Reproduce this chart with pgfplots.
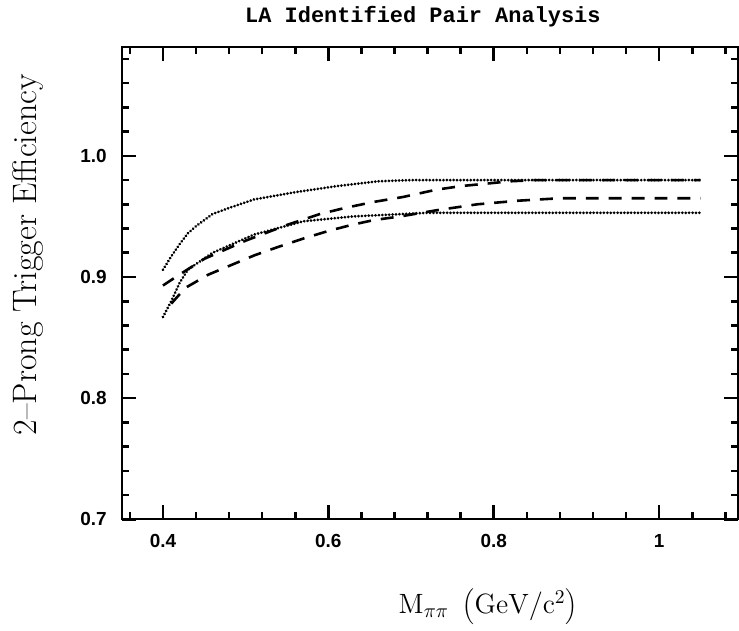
\documentclass[border=0pt]{standalone}
\usepackage{fontspec}
\setsansfont{Liberation Sans}
\newfontfamily\titlefont{Liberation Mono}
\usepackage{pgfplots}
\pgfplotsset{compat=1.18}

\begin{document}
\begin{tikzpicture}
\begin{axis}[
    scale only axis,
    width=309pt, height=237pt,
    xmin=0.35, xmax=1.095,
    ymin=0.7, ymax=1.09,
    axis line style={line width=1pt},
    xtick style={draw=black, solid, line width=1.3pt},
    ytick style={draw=black, solid, line width=1.3pt},
    major tick length=7pt,
    minor tick length=3.5pt,
    tick align=inside,
    xtick={0.4,0.6,0.8,1},
    xticklabels={0.4,0.6,0.8,1},
    ytick={0.7,0.8,0.9,1.0},
    yticklabels={0.7,0.8,0.9,1.0},
    minor xtick={0.36,0.44,0.48,0.52,0.56,0.64,0.68,0.72,0.76,0.84,0.88,0.92,0.96,1.04,1.08},
    minor ytick={0.72,0.74,0.76,0.78,0.82,0.84,0.86,0.88,0.92,0.94,0.96,0.98,1.02,1.04,1.06,1.08},
    ticklabel style={font=\sffamily\bfseries\fontsize{9.5}{11}\selectfont},
    xticklabel style={yshift=-4pt},
    yticklabel style={xshift=-4pt},
    clip=false,
]
% upper dotted
\addplot[black, line width=1.5pt, line cap=round, dash pattern=on 0.01pt off 1.7pt] coordinates {
(0.40,0.906) (0.41,0.917) (0.42,0.927) (0.43,0.936) (0.44,0.942) (0.46,0.952)
(0.48,0.957) (0.51,0.964) (0.56,0.970) (0.61,0.975) (0.66,0.979) (0.70,0.980) (1.05,0.980)};
% lower dotted
\addplot[black, line width=1.5pt, line cap=round, dash pattern=on 0.01pt off 1.7pt] coordinates {
(0.40,0.867) (0.41,0.880) (0.42,0.895) (0.43,0.906) (0.46,0.920) (0.51,0.935)
(0.57,0.946) (0.63,0.950) (0.69,0.952) (0.72,0.953) (1.05,0.953)};
% upper dashed
\addplot[black, line width=1.3pt, dash pattern=on 6.5pt off 5pt] coordinates {
(0.40,0.893) (0.42,0.902) (0.45,0.915) (0.50,0.930) (0.55,0.943) (0.59,0.952)
(0.62,0.957) (0.655,0.962) (0.69,0.966) (0.73,0.972) (0.76,0.975) (0.79,0.977)
(0.82,0.979) (0.85,0.980) (1.05,0.980)};
% lower dashed
\addplot[black, line width=1.3pt, dash pattern=on 6.5pt off 5pt] coordinates {
(0.41,0.878) (0.427,0.891) (0.455,0.902) (0.483,0.910) (0.511,0.918) (0.54,0.925)
(0.571,0.932) (0.60,0.938) (0.628,0.943) (0.655,0.947) (0.687,0.950) (0.73,0.955)
(0.78,0.960) (0.83,0.963) (0.88,0.965) (1.05,0.965)};

\node[font=\titlefont\bfseries\fontsize{11}{13}\selectfont] at (rel axis cs:0.489,1.063) {LA Identified Pair Analysis};
\node[rotate=90, font=\fontsize{17}{20}\selectfont] at (rel axis cs:-0.152,0.56) {2--Prong Trigger Efficiency};
\node[font=\fontsize{14}{17}\selectfont] at (rel axis cs:0.595,-0.184) {$\mathrm{M}_{\pi\pi}\ \left(\mathrm{GeV/c^2}\right)$};
\path (rel axis cs:-0.1974,-0.230) rectangle (rel axis cs:0.998,1.099);
\end{axis}
% overlay axis: long ticks at the labelled positions
\begin{axis}[
    scale only axis,
    width=309pt, height=237pt,
    xmin=0.35, xmax=1.095,
    ymin=0.7, ymax=1.09,
    axis line style={line width=1pt},
    xtick style={draw=black, solid, line width=1.3pt},
    ytick style={draw=black, solid, line width=1.3pt},
    minor tick length=7pt,
    tick align=inside,
    xtick=\empty, ytick=\empty,
    minor xtick={0.4,0.6,0.8,1},
    minor ytick={0.7,0.8,0.9,1.0},
]
\end{axis}
\end{tikzpicture}
\end{document}
